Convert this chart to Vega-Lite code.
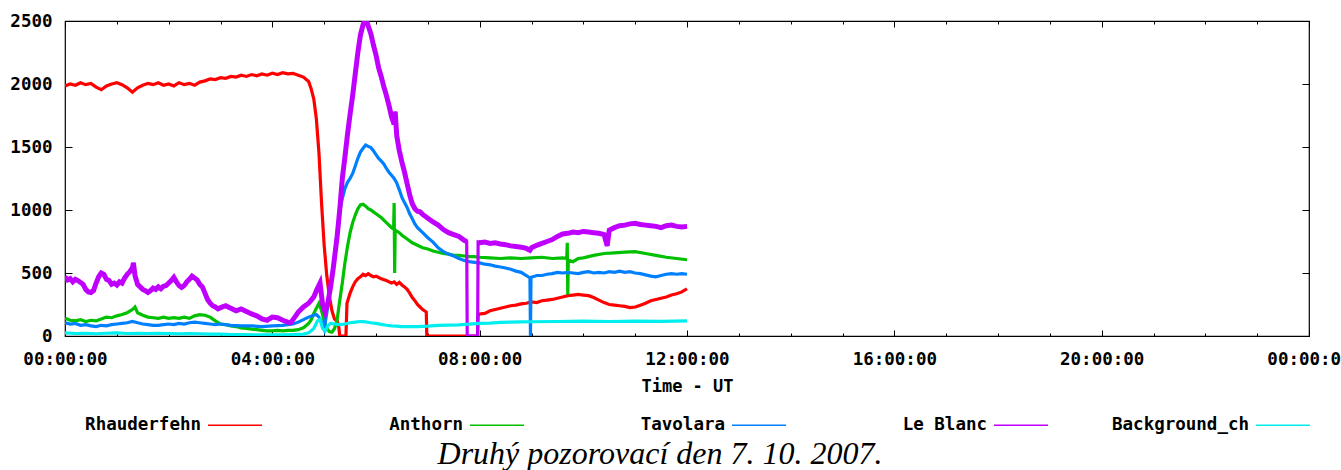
{
"$schema": "https://vega.github.io/schema/vega-lite/v6.json",
"width": 1244, "height": 315,
"autosize": {"type": "none"},
"padding": {"left": 65, "top": 21, "right": 32, "bottom": 134},
"background": "white",
"config": {
  "view": {"stroke": "black", "strokeWidth": 1.2},
  "axis": {"labelFont": "DejaVu Sans Mono", "labelFontWeight": "bold", "labelFontSize": 17.5, "labelColor": "black", "tickColor": "black", "tickWidth": 1, "domain": false, "grid": false, "titleFont": "DejaVu Sans Mono", "titleFontWeight": "bold", "titleFontSize": 17, "titleColor": "black"},
  "legend": {"orient": "none", "legendX": 142, "legendY": 376, "direction": "horizontal", "columns": 5, "gridAlign": "all", "columnPadding": 61, "symbolType": "stroke", "symbolSize": 2916, "symbolStrokeWidth": 1.5, "labelFont": "DejaVu Sans Mono", "labelFontWeight": "bold", "labelFontSize": 17.5, "labelColor": "black", "labelAlign": "right", "labelOffset": -62, "title": null}
},
"title": {"text": "Druhý pozorovací den 7. 10. 2007.", "orient": "bottom", "anchor": "middle", "font": "Liberation Serif", "fontStyle": "italic", "fontWeight": "normal", "fontSize": 32, "color": "black", "offset": 5, "dx": -27},
"datasets": {
"series": [
{"s":"R","t":0.0,"v":1985},{"s":"R","t":0.1,"v":2000},{"s":"R","t":0.2,"v":1990},{"s":"R","t":0.3,"v":2010},{"s":"R","t":0.4,"v":1995},{"s":"R","t":0.5,"v":2005},{"s":"R","t":0.6,"v":1975},{"s":"R","t":0.7,"v":1955},{"s":"R","t":0.8,"v":1985},{"s":"R","t":0.9,"v":2000},{"s":"R","t":1.0,"v":2010},{"s":"R","t":1.1,"v":1995},{"s":"R","t":1.2,"v":1970},{"s":"R","t":1.3,"v":1935},{"s":"R","t":1.4,"v":1970},{"s":"R","t":1.5,"v":1990},{"s":"R","t":1.6,"v":2005},{"s":"R","t":1.7,"v":1995},{"s":"R","t":1.8,"v":2010},{"s":"R","t":1.9,"v":1990},{"s":"R","t":2.0,"v":2000},{"s":"R","t":2.1,"v":1985},{"s":"R","t":2.2,"v":2010},{"s":"R","t":2.3,"v":1995},{"s":"R","t":2.4,"v":2005},{"s":"R","t":2.5,"v":1990},{"s":"R","t":2.6,"v":2015},{"s":"R","t":2.7,"v":2025},{"s":"R","t":2.8,"v":2040},{"s":"R","t":2.9,"v":2035},{"s":"R","t":3.0,"v":2050},{"s":"R","t":3.1,"v":2045},{"s":"R","t":3.2,"v":2060},{"s":"R","t":3.3,"v":2055},{"s":"R","t":3.4,"v":2070},{"s":"R","t":3.5,"v":2060},{"s":"R","t":3.6,"v":2075},{"s":"R","t":3.7,"v":2065},{"s":"R","t":3.8,"v":2080},{"s":"R","t":3.9,"v":2070},{"s":"R","t":4.0,"v":2085},{"s":"R","t":4.1,"v":2075},{"s":"R","t":4.2,"v":2090},{"s":"R","t":4.3,"v":2080},{"s":"R","t":4.4,"v":2085},{"s":"R","t":4.5,"v":2070},{"s":"R","t":4.6,"v":2055},{"s":"R","t":4.7,"v":2020},{"s":"R","t":4.75,"v":1960},{"s":"R","t":4.8,"v":1880},{"s":"R","t":4.85,"v":1720},{"s":"R","t":4.9,"v":1450},{"s":"R","t":4.95,"v":1050},{"s":"R","t":5.0,"v":720},{"s":"R","t":5.05,"v":480},{"s":"R","t":5.1,"v":320},{"s":"R","t":5.15,"v":200},{"s":"R","t":5.2,"v":135},{"s":"R","t":5.25,"v":120},{"s":"R","t":5.28,"v":80},{"s":"R","t":5.3,"v":0},{"s":"R","t":5.42,"v":0},{"s":"R","t":5.44,"v":260},{"s":"R","t":5.5,"v":340},{"s":"R","t":5.55,"v":390},{"s":"R","t":5.6,"v":430},{"s":"R","t":5.65,"v":455},{"s":"R","t":5.7,"v":470},{"s":"R","t":5.75,"v":490},{"s":"R","t":5.8,"v":480},{"s":"R","t":5.85,"v":495},{"s":"R","t":5.9,"v":480},{"s":"R","t":5.95,"v":470},{"s":"R","t":6.0,"v":475},{"s":"R","t":6.1,"v":455},{"s":"R","t":6.2,"v":440},{"s":"R","t":6.3,"v":420},{"s":"R","t":6.35,"v":430},{"s":"R","t":6.4,"v":410},{"s":"R","t":6.45,"v":425},{"s":"R","t":6.5,"v":405},{"s":"R","t":6.55,"v":390},{"s":"R","t":6.6,"v":370},{"s":"R","t":6.65,"v":340},{"s":"R","t":6.7,"v":305},{"s":"R","t":6.75,"v":280},{"s":"R","t":6.8,"v":250},{"s":"R","t":6.85,"v":230},{"s":"R","t":6.9,"v":210},{"s":"R","t":6.97,"v":190},{"s":"R","t":6.98,"v":0},{"s":"R","t":7.96,"v":0},{"s":"R","t":7.97,"v":160},{"s":"R","t":8.0,"v":175},{"s":"R","t":8.1,"v":180},{"s":"R","t":8.2,"v":200},{"s":"R","t":8.3,"v":210},{"s":"R","t":8.4,"v":220},{"s":"R","t":8.5,"v":230},{"s":"R","t":8.6,"v":240},{"s":"R","t":8.7,"v":245},{"s":"R","t":8.8,"v":255},{"s":"R","t":8.9,"v":260},{"s":"R","t":9.0,"v":270},{"s":"R","t":9.1,"v":265},{"s":"R","t":9.2,"v":280},{"s":"R","t":9.3,"v":285},{"s":"R","t":9.4,"v":290},{"s":"R","t":9.5,"v":300},{"s":"R","t":9.6,"v":310},{"s":"R","t":9.7,"v":320},{"s":"R","t":9.8,"v":325},{"s":"R","t":9.9,"v":330},{"s":"R","t":10.0,"v":325},{"s":"R","t":10.1,"v":320},{"s":"R","t":10.2,"v":305},{"s":"R","t":10.3,"v":285},{"s":"R","t":10.4,"v":265},{"s":"R","t":10.5,"v":250},{"s":"R","t":10.6,"v":245},{"s":"R","t":10.7,"v":240},{"s":"R","t":10.8,"v":235},{"s":"R","t":10.9,"v":225},{"s":"R","t":11.0,"v":230},{"s":"R","t":11.1,"v":245},{"s":"R","t":11.2,"v":260},{"s":"R","t":11.3,"v":280},{"s":"R","t":11.4,"v":290},{"s":"R","t":11.5,"v":300},{"s":"R","t":11.6,"v":310},{"s":"R","t":11.7,"v":325},{"s":"R","t":11.8,"v":335},{"s":"R","t":11.9,"v":350},{"s":"R","t":12.0,"v":375},
{"s":"A","t":0.0,"v":140},{"s":"A","t":0.1,"v":125},{"s":"A","t":0.2,"v":120},{"s":"A","t":0.3,"v":130},{"s":"A","t":0.4,"v":115},{"s":"A","t":0.5,"v":125},{"s":"A","t":0.6,"v":120},{"s":"A","t":0.7,"v":135},{"s":"A","t":0.8,"v":150},{"s":"A","t":0.9,"v":145},{"s":"A","t":1.0,"v":160},{"s":"A","t":1.1,"v":170},{"s":"A","t":1.2,"v":185},{"s":"A","t":1.3,"v":210},{"s":"A","t":1.35,"v":230},{"s":"A","t":1.4,"v":185},{"s":"A","t":1.5,"v":165},{"s":"A","t":1.6,"v":150},{"s":"A","t":1.7,"v":145},{"s":"A","t":1.8,"v":140},{"s":"A","t":1.9,"v":150},{"s":"A","t":2.0,"v":140},{"s":"A","t":2.1,"v":145},{"s":"A","t":2.2,"v":140},{"s":"A","t":2.3,"v":150},{"s":"A","t":2.4,"v":140},{"s":"A","t":2.5,"v":160},{"s":"A","t":2.6,"v":170},{"s":"A","t":2.7,"v":165},{"s":"A","t":2.8,"v":150},{"s":"A","t":2.9,"v":120},{"s":"A","t":3.0,"v":95},{"s":"A","t":3.1,"v":90},{"s":"A","t":3.2,"v":80},{"s":"A","t":3.3,"v":75},{"s":"A","t":3.4,"v":65},{"s":"A","t":3.5,"v":60},{"s":"A","t":3.6,"v":55},{"s":"A","t":3.7,"v":50},{"s":"A","t":3.8,"v":45},{"s":"A","t":3.9,"v":40},{"s":"A","t":4.0,"v":40},{"s":"A","t":4.1,"v":45},{"s":"A","t":4.2,"v":40},{"s":"A","t":4.3,"v":45},{"s":"A","t":4.4,"v":45},{"s":"A","t":4.5,"v":50},{"s":"A","t":4.6,"v":65},{"s":"A","t":4.7,"v":100},{"s":"A","t":4.75,"v":130},{"s":"A","t":4.8,"v":180},{"s":"A","t":4.85,"v":220},{"s":"A","t":4.9,"v":260},{"s":"A","t":4.95,"v":200},{"s":"A","t":5.0,"v":120},{"s":"A","t":5.05,"v":60},{"s":"A","t":5.1,"v":35},{"s":"A","t":5.15,"v":30},{"s":"A","t":5.2,"v":60},{"s":"A","t":5.25,"v":130},{"s":"A","t":5.3,"v":280},{"s":"A","t":5.35,"v":420},{"s":"A","t":5.4,"v":580},{"s":"A","t":5.45,"v":710},{"s":"A","t":5.5,"v":820},{"s":"A","t":5.55,"v":900},{"s":"A","t":5.6,"v":960},{"s":"A","t":5.65,"v":1010},{"s":"A","t":5.7,"v":1040},{"s":"A","t":5.75,"v":1045},{"s":"A","t":5.8,"v":1030},{"s":"A","t":5.85,"v":1010},{"s":"A","t":5.9,"v":1000},{"s":"A","t":5.95,"v":985},{"s":"A","t":6.0,"v":970},{"s":"A","t":6.1,"v":940},{"s":"A","t":6.2,"v":900},{"s":"A","t":6.3,"v":860},{"s":"A","t":6.34,"v":850},{"s":"A","t":6.35,"v":1056},{"s":"A","t":6.36,"v":500},{"s":"A","t":6.37,"v":840},{"s":"A","t":6.45,"v":820},{"s":"A","t":6.5,"v":800},{"s":"A","t":6.6,"v":770},{"s":"A","t":6.7,"v":740},{"s":"A","t":6.8,"v":720},{"s":"A","t":6.9,"v":700},{"s":"A","t":7.0,"v":690},{"s":"A","t":7.1,"v":675},{"s":"A","t":7.2,"v":665},{"s":"A","t":7.3,"v":655},{"s":"A","t":7.4,"v":650},{"s":"A","t":7.5,"v":640},{"s":"A","t":7.6,"v":640},{"s":"A","t":7.7,"v":635},{"s":"A","t":7.8,"v":630},{"s":"A","t":7.9,"v":630},{"s":"A","t":8.0,"v":625},{"s":"A","t":8.2,"v":620},{"s":"A","t":8.4,"v":615},{"s":"A","t":8.6,"v":620},{"s":"A","t":8.8,"v":615},{"s":"A","t":9.0,"v":620},{"s":"A","t":9.2,"v":625},{"s":"A","t":9.4,"v":615},{"s":"A","t":9.6,"v":620},{"s":"A","t":9.68,"v":615},{"s":"A","t":9.69,"v":740},{"s":"A","t":9.7,"v":330},{"s":"A","t":9.71,"v":600},{"s":"A","t":9.8,"v":590},{"s":"A","t":9.9,"v":615},{"s":"A","t":10.0,"v":620},{"s":"A","t":10.2,"v":640},{"s":"A","t":10.4,"v":655},{"s":"A","t":10.6,"v":660},{"s":"A","t":10.8,"v":665},{"s":"A","t":11.0,"v":670},{"s":"A","t":11.2,"v":655},{"s":"A","t":11.4,"v":640},{"s":"A","t":11.6,"v":625},{"s":"A","t":11.8,"v":615},{"s":"A","t":12.0,"v":605},
{"s":"T","t":0.0,"v":105},{"s":"T","t":0.1,"v":95},{"s":"T","t":0.2,"v":100},{"s":"T","t":0.3,"v":85},{"s":"T","t":0.4,"v":90},{"s":"T","t":0.5,"v":80},{"s":"T","t":0.6,"v":75},{"s":"T","t":0.7,"v":85},{"s":"T","t":0.8,"v":80},{"s":"T","t":0.9,"v":90},{"s":"T","t":1.0,"v":95},{"s":"T","t":1.1,"v":100},{"s":"T","t":1.2,"v":105},{"s":"T","t":1.3,"v":115},{"s":"T","t":1.4,"v":105},{"s":"T","t":1.5,"v":95},{"s":"T","t":1.6,"v":90},{"s":"T","t":1.7,"v":85},{"s":"T","t":1.8,"v":85},{"s":"T","t":1.9,"v":90},{"s":"T","t":2.0,"v":95},{"s":"T","t":2.1,"v":90},{"s":"T","t":2.2,"v":100},{"s":"T","t":2.3,"v":95},{"s":"T","t":2.4,"v":105},{"s":"T","t":2.5,"v":110},{"s":"T","t":2.6,"v":105},{"s":"T","t":2.7,"v":100},{"s":"T","t":2.8,"v":95},{"s":"T","t":2.9,"v":90},{"s":"T","t":3.0,"v":95},{"s":"T","t":3.2,"v":85},{"s":"T","t":3.4,"v":80},{"s":"T","t":3.6,"v":80},{"s":"T","t":3.8,"v":75},{"s":"T","t":4.0,"v":80},{"s":"T","t":4.2,"v":85},{"s":"T","t":4.3,"v":90},{"s":"T","t":4.4,"v":95},{"s":"T","t":4.5,"v":110},{"s":"T","t":4.6,"v":130},{"s":"T","t":4.7,"v":150},{"s":"T","t":4.8,"v":165},{"s":"T","t":4.85,"v":170},{"s":"T","t":4.9,"v":150},{"s":"T","t":4.95,"v":110},{"s":"T","t":5.0,"v":55},{"s":"T","t":5.05,"v":180},{"s":"T","t":5.1,"v":330},{"s":"T","t":5.15,"v":470},{"s":"T","t":5.2,"v":640},{"s":"T","t":5.25,"v":820},{"s":"T","t":5.3,"v":990},{"s":"T","t":5.35,"v":1090},{"s":"T","t":5.4,"v":1170},{"s":"T","t":5.45,"v":1220},{"s":"T","t":5.5,"v":1250},{"s":"T","t":5.55,"v":1290},{"s":"T","t":5.6,"v":1350},{"s":"T","t":5.65,"v":1410},{"s":"T","t":5.7,"v":1460},{"s":"T","t":5.75,"v":1490},{"s":"T","t":5.8,"v":1515},{"s":"T","t":5.85,"v":1505},{"s":"T","t":5.9,"v":1495},{"s":"T","t":5.95,"v":1470},{"s":"T","t":6.0,"v":1440},{"s":"T","t":6.05,"v":1410},{"s":"T","t":6.1,"v":1390},{"s":"T","t":6.15,"v":1365},{"s":"T","t":6.2,"v":1330},{"s":"T","t":6.25,"v":1300},{"s":"T","t":6.3,"v":1275},{"s":"T","t":6.35,"v":1250},{"s":"T","t":6.4,"v":1215},{"s":"T","t":6.45,"v":1160},{"s":"T","t":6.5,"v":1100},{"s":"T","t":6.55,"v":1060},{"s":"T","t":6.6,"v":1020},{"s":"T","t":6.65,"v":970},{"s":"T","t":6.7,"v":930},{"s":"T","t":6.75,"v":890},{"s":"T","t":6.8,"v":860},{"s":"T","t":6.9,"v":820},{"s":"T","t":7.0,"v":780},{"s":"T","t":7.1,"v":745},{"s":"T","t":7.2,"v":700},{"s":"T","t":7.3,"v":670},{"s":"T","t":7.4,"v":650},{"s":"T","t":7.5,"v":635},{"s":"T","t":7.6,"v":615},{"s":"T","t":7.7,"v":600},{"s":"T","t":7.8,"v":590},{"s":"T","t":7.9,"v":585},{"s":"T","t":8.0,"v":580},{"s":"T","t":8.1,"v":570},{"s":"T","t":8.2,"v":565},{"s":"T","t":8.3,"v":555},{"s":"T","t":8.4,"v":548},{"s":"T","t":8.5,"v":540},{"s":"T","t":8.6,"v":530},{"s":"T","t":8.7,"v":515},{"s":"T","t":8.8,"v":505},{"s":"T","t":8.9,"v":480},{"s":"T","t":8.97,"v":460},{"s":"T","t":8.98,"v":0},{"s":"T","t":8.99,"v":465},{"s":"T","t":9.1,"v":480},{"s":"T","t":9.2,"v":480},{"s":"T","t":9.3,"v":490},{"s":"T","t":9.4,"v":495},{"s":"T","t":9.5,"v":505},{"s":"T","t":9.6,"v":500},{"s":"T","t":9.7,"v":505},{"s":"T","t":9.8,"v":500},{"s":"T","t":9.9,"v":495},{"s":"T","t":10.0,"v":505},{"s":"T","t":10.1,"v":510},{"s":"T","t":10.2,"v":500},{"s":"T","t":10.3,"v":505},{"s":"T","t":10.4,"v":500},{"s":"T","t":10.5,"v":510},{"s":"T","t":10.6,"v":505},{"s":"T","t":10.7,"v":515},{"s":"T","t":10.8,"v":505},{"s":"T","t":10.9,"v":510},{"s":"T","t":11.0,"v":500},{"s":"T","t":11.1,"v":495},{"s":"T","t":11.2,"v":485},{"s":"T","t":11.3,"v":475},{"s":"T","t":11.4,"v":470},{"s":"T","t":11.5,"v":480},{"s":"T","t":11.6,"v":490},{"s":"T","t":11.7,"v":495},{"s":"T","t":11.8,"v":490},{"s":"T","t":11.9,"v":495},{"s":"T","t":12.0,"v":490},
{"s":"L","t":0.0,"v":470},{"s":"L","t":0.05,"v":445},{"s":"L","t":0.1,"v":455},{"s":"L","t":0.15,"v":430},{"s":"L","t":0.2,"v":450},{"s":"L","t":0.25,"v":440},{"s":"L","t":0.3,"v":425},{"s":"L","t":0.35,"v":410},{"s":"L","t":0.4,"v":370},{"s":"L","t":0.45,"v":350},{"s":"L","t":0.5,"v":345},{"s":"L","t":0.55,"v":360},{"s":"L","t":0.6,"v":420},{"s":"L","t":0.65,"v":470},{"s":"L","t":0.7,"v":500},{"s":"L","t":0.75,"v":490},{"s":"L","t":0.8,"v":450},{"s":"L","t":0.85,"v":440},{"s":"L","t":0.9,"v":410},{"s":"L","t":0.95,"v":420},{"s":"L","t":1.0,"v":405},{"s":"L","t":1.05,"v":430},{"s":"L","t":1.1,"v":420},{"s":"L","t":1.15,"v":460},{"s":"L","t":1.2,"v":490},{"s":"L","t":1.25,"v":510},{"s":"L","t":1.3,"v":540},{"s":"L","t":1.32,"v":580},{"s":"L","t":1.35,"v":480},{"s":"L","t":1.4,"v":410},{"s":"L","t":1.45,"v":390},{"s":"L","t":1.5,"v":370},{"s":"L","t":1.55,"v":360},{"s":"L","t":1.6,"v":345},{"s":"L","t":1.65,"v":360},{"s":"L","t":1.7,"v":380},{"s":"L","t":1.75,"v":370},{"s":"L","t":1.8,"v":390},{"s":"L","t":1.85,"v":375},{"s":"L","t":1.9,"v":395},{"s":"L","t":1.95,"v":400},{"s":"L","t":2.0,"v":420},{"s":"L","t":2.05,"v":440},{"s":"L","t":2.1,"v":465},{"s":"L","t":2.15,"v":430},{"s":"L","t":2.2,"v":400},{"s":"L","t":2.25,"v":385},{"s":"L","t":2.3,"v":400},{"s":"L","t":2.35,"v":430},{"s":"L","t":2.4,"v":450},{"s":"L","t":2.45,"v":475},{"s":"L","t":2.5,"v":460},{"s":"L","t":2.55,"v":445},{"s":"L","t":2.6,"v":410},{"s":"L","t":2.65,"v":390},{"s":"L","t":2.7,"v":340},{"s":"L","t":2.75,"v":290},{"s":"L","t":2.8,"v":260},{"s":"L","t":2.85,"v":240},{"s":"L","t":2.9,"v":230},{"s":"L","t":2.95,"v":215},{"s":"L","t":3.0,"v":225},{"s":"L","t":3.1,"v":240},{"s":"L","t":3.2,"v":220},{"s":"L","t":3.3,"v":200},{"s":"L","t":3.4,"v":215},{"s":"L","t":3.5,"v":195},{"s":"L","t":3.6,"v":175},{"s":"L","t":3.7,"v":160},{"s":"L","t":3.8,"v":135},{"s":"L","t":3.9,"v":125},{"s":"L","t":4.0,"v":150},{"s":"L","t":4.1,"v":145},{"s":"L","t":4.2,"v":125},{"s":"L","t":4.3,"v":110},{"s":"L","t":4.35,"v":105},{"s":"L","t":4.4,"v":130},{"s":"L","t":4.5,"v":190},{"s":"L","t":4.6,"v":230},{"s":"L","t":4.7,"v":260},{"s":"L","t":4.8,"v":310},{"s":"L","t":4.85,"v":360},{"s":"L","t":4.92,"v":420},{"s":"L","t":4.97,"v":250},{"s":"L","t":5.02,"v":190},{"s":"L","t":5.07,"v":260},{"s":"L","t":5.12,"v":380},{"s":"L","t":5.17,"v":520},{"s":"L","t":5.25,"v":790},{"s":"L","t":5.3,"v":1000},{"s":"L","t":5.35,"v":1250},{"s":"L","t":5.4,"v":1420},{"s":"L","t":5.45,"v":1600},{"s":"L","t":5.5,"v":1760},{"s":"L","t":5.55,"v":1910},{"s":"L","t":5.6,"v":2080},{"s":"L","t":5.65,"v":2250},{"s":"L","t":5.7,"v":2390},{"s":"L","t":5.75,"v":2470},{"s":"L","t":5.8,"v":2520},{"s":"L","t":5.85,"v":2460},{"s":"L","t":5.9,"v":2400},{"s":"L","t":5.95,"v":2310},{"s":"L","t":6.0,"v":2230},{"s":"L","t":6.05,"v":2130},{"s":"L","t":6.1,"v":2060},{"s":"L","t":6.15,"v":1980},{"s":"L","t":6.2,"v":1910},{"s":"L","t":6.25,"v":1830},{"s":"L","t":6.3,"v":1740},{"s":"L","t":6.35,"v":1680},{"s":"L","t":6.37,"v":1780},{"s":"L","t":6.4,"v":1590},{"s":"L","t":6.45,"v":1470},{"s":"L","t":6.5,"v":1380},{"s":"L","t":6.55,"v":1300},{"s":"L","t":6.6,"v":1210},{"s":"L","t":6.65,"v":1120},{"s":"L","t":6.7,"v":1050},{"s":"L","t":6.75,"v":1010},{"s":"L","t":6.8,"v":990},{"s":"L","t":6.85,"v":985},{"s":"L","t":6.9,"v":965},{"s":"L","t":7.0,"v":935},{"s":"L","t":7.1,"v":905},{"s":"L","t":7.2,"v":880},{"s":"L","t":7.3,"v":845},{"s":"L","t":7.4,"v":820},{"s":"L","t":7.5,"v":805},{"s":"L","t":7.6,"v":790},{"s":"L","t":7.7,"v":760},{"s":"L","t":7.75,"v":750},{"s":"L","t":7.76,"v":0},{"s":"L","t":7.96,"v":0},{"s":"L","t":7.97,"v":745},{"s":"L","t":8.0,"v":740},{"s":"L","t":8.1,"v":745},{"s":"L","t":8.2,"v":735},{"s":"L","t":8.3,"v":740},{"s":"L","t":8.4,"v":730},{"s":"L","t":8.5,"v":725},{"s":"L","t":8.6,"v":715},{"s":"L","t":8.7,"v":710},{"s":"L","t":8.8,"v":705},{"s":"L","t":8.9,"v":695},{"s":"L","t":8.97,"v":680},{"s":"L","t":9.0,"v":700},{"s":"L","t":9.1,"v":720},{"s":"L","t":9.2,"v":735},{"s":"L","t":9.3,"v":750},{"s":"L","t":9.4,"v":765},{"s":"L","t":9.5,"v":790},{"s":"L","t":9.6,"v":810},{"s":"L","t":9.7,"v":815},{"s":"L","t":9.8,"v":825},{"s":"L","t":9.9,"v":820},{"s":"L","t":10.0,"v":830},{"s":"L","t":10.1,"v":825},{"s":"L","t":10.2,"v":820},{"s":"L","t":10.3,"v":815},{"s":"L","t":10.4,"v":805},{"s":"L","t":10.46,"v":715},{"s":"L","t":10.5,"v":840},{"s":"L","t":10.6,"v":860},{"s":"L","t":10.7,"v":875},{"s":"L","t":10.8,"v":880},{"s":"L","t":10.9,"v":890},{"s":"L","t":11.0,"v":895},{"s":"L","t":11.1,"v":885},{"s":"L","t":11.2,"v":880},{"s":"L","t":11.3,"v":875},{"s":"L","t":11.4,"v":870},{"s":"L","t":11.5,"v":860},{"s":"L","t":11.6,"v":875},{"s":"L","t":11.7,"v":880},{"s":"L","t":11.8,"v":870},{"s":"L","t":11.9,"v":865},{"s":"L","t":12.0,"v":870},
{"s":"B","t":0.0,"v":25},{"s":"B","t":0.2,"v":20},{"s":"B","t":0.4,"v":22},{"s":"B","t":0.6,"v":18},{"s":"B","t":0.8,"v":22},{"s":"B","t":1.0,"v":25},{"s":"B","t":1.2,"v":20},{"s":"B","t":1.4,"v":22},{"s":"B","t":1.6,"v":20},{"s":"B","t":1.8,"v":22},{"s":"B","t":2.0,"v":20},{"s":"B","t":2.2,"v":18},{"s":"B","t":2.4,"v":20},{"s":"B","t":2.6,"v":18},{"s":"B","t":2.8,"v":15},{"s":"B","t":3.0,"v":15},{"s":"B","t":3.2,"v":12},{"s":"B","t":3.4,"v":12},{"s":"B","t":3.6,"v":10},{"s":"B","t":3.8,"v":10},{"s":"B","t":4.0,"v":10},{"s":"B","t":4.2,"v":10},{"s":"B","t":4.4,"v":12},{"s":"B","t":4.6,"v":15},{"s":"B","t":4.7,"v":25},{"s":"B","t":4.8,"v":60},{"s":"B","t":4.87,"v":120},{"s":"B","t":4.92,"v":130},{"s":"B","t":4.97,"v":60},{"s":"B","t":5.02,"v":40},{"s":"B","t":5.07,"v":80},{"s":"B","t":5.12,"v":100},{"s":"B","t":5.2,"v":95},{"s":"B","t":5.3,"v":90},{"s":"B","t":5.4,"v":95},{"s":"B","t":5.5,"v":105},{"s":"B","t":5.6,"v":110},{"s":"B","t":5.7,"v":115},{"s":"B","t":5.8,"v":112},{"s":"B","t":5.9,"v":105},{"s":"B","t":6.0,"v":100},{"s":"B","t":6.1,"v":92},{"s":"B","t":6.2,"v":85},{"s":"B","t":6.3,"v":80},{"s":"B","t":6.4,"v":78},{"s":"B","t":6.5,"v":75},{"s":"B","t":6.6,"v":74},{"s":"B","t":6.8,"v":74},{"s":"B","t":7.0,"v":78},{"s":"B","t":7.2,"v":85},{"s":"B","t":7.4,"v":87},{"s":"B","t":7.6,"v":88},{"s":"B","t":7.8,"v":95},{"s":"B","t":8.0,"v":100},{"s":"B","t":8.2,"v":102},{"s":"B","t":8.4,"v":108},{"s":"B","t":8.6,"v":110},{"s":"B","t":8.8,"v":112},{"s":"B","t":9.0,"v":113},{"s":"B","t":9.5,"v":115},{"s":"B","t":10.0,"v":118},{"s":"B","t":10.5,"v":115},{"s":"B","t":11.0,"v":118},{"s":"B","t":11.5,"v":116},{"s":"B","t":12.0,"v":120}
]
},
"data": {"name": "series"},
"layer": [
  {
    "mark": {"type": "line", "clip": true, "strokeWidth": 3.2},
    "encoding": {
      "x": {"field": "t", "type": "quantitative", "scale": {"domain": [0, 24], "nice": false, "zero": false},
        "axis": {"orient": "bottom", "values": [0,1,2,3,4,5,6,7,8,9,10,11,12,13,14,15,16,17,18,19,20,21,22,23,24], "labelExpr": "datum.value % 4 == 0 ? ((datum.value % 24) < 10 ? '0' : '') + (datum.value % 24) + ':00:00' : ''", "tickSize": {"condition": {"test": "datum.value % 4 == 0", "value": -6}, "value": -3}, "labelPadding": 20, "title": "Time - UT", "titlePadding": 8, "labelFlush": false, "labelOverlap": false}},
      "y": {"field": "v", "type": "quantitative", "scale": {"domain": [0, 2500], "nice": false},
        "axis": {"orient": "left", "values": [0,500,1000,1500,2000,2500], "format": "d", "tickSize": -7, "labelPadding": 20, "title": null}},
      "color": {"field": "s", "type": "nominal", "scale": {"domain": ["R","A","T","L","B"], "range": ["#ff0000","#00c000","#0080ff","#c000ff","#00eeee"]},
        "legend": {"labelExpr": "{'R':'Rhauderfehn','A':'Anthorn','T':'Tavolara','L':'Le Blanc','B':'Background_ch'}[datum.value]", "symbolStrokeWidth": 1.5}}
    }
  },
  {
    "transform": [{"filter": "datum.s == 'L' && (datum.t < 7.755 || datum.t > 7.965)"}],
    "mark": {"type": "line", "clip": true, "strokeWidth": 5, "color": "#c000ff"},
    "encoding": {
      "x": {"field": "t", "type": "quantitative", "axis": null},
      "y": {"field": "v", "type": "quantitative", "axis": null},
      "detail": {"field": "t", "type": "quantitative", "bin": {"extent": [0, 15.72], "step": 7.86, "nice": false}}
    }
  },
  {
    "mark": {"type": "line", "opacity": 0},
    "encoding": {
      "x": {"field": "t", "type": "quantitative", "axis": {"orient": "top", "values": [0,1,2,3,4,5,6,7,8,9,10,11,12,13,14,15,16,17,18,19,20,21,22,23,24], "labels": false, "tickSize": {"condition": {"test": "datum.value % 4 == 0", "value": -6}, "value": -3}, "title": null}},
      "y": {"field": "v", "type": "quantitative", "axis": {"orient": "right", "values": [0,500,1000,1500,2000,2500], "labels": false, "tickSize": -7, "title": null}},
      "detail": {"field": "s"}
    }
  }
],
"resolve": {"axis": {"x": "independent", "y": "independent"}}
}
